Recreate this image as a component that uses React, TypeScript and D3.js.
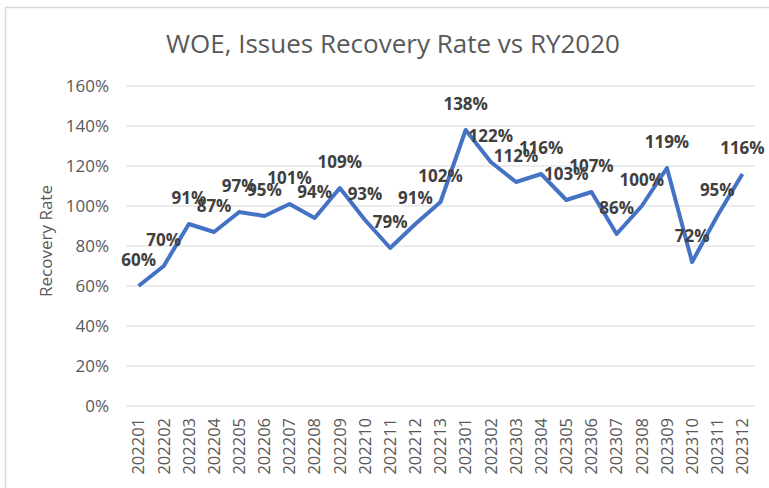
import React, { useEffect, useRef } from "react";
import * as d3 from "d3";

const categories = [
  "202201", "202202", "202203", "202204", "202205", "202206", "202207",
  "202208", "202209", "202210", "202211", "202212", "202213", "202301",
  "202302", "202303", "202304", "202305", "202306", "202307", "202308",
  "202309", "202310", "202311", "202312",
];
const rates = [
  60, 70, 91, 87, 97, 95, 101, 94, 109, 93, 79, 91, 102, 138, 122, 112,
  116, 103, 107, 86, 100, 119, 72, 95, 116,
];
const yTicks = [0, 20, 40, 60, 80, 100, 120, 140, 160];

const App = () => {
  const svgRef = useRef<SVGSVGElement>(null);

  useEffect(() => {
    const svg = d3.select(svgRef.current);
    svg.selectAll("*").remove();
    const font = "Open Sans, Noto Sans, sans-serif";

    // chart frame
    svg
      .append("rect")
      .attr("x", 5.5)
      .attr("y", 7.5)
      .attr("width", 800)
      .attr("height", 600)
      .attr("fill", "#fff")
      .attr("stroke", "#d9d9d9")
      .attr("stroke-width", 1.5);

    const x = d3.scaleBand().domain(categories).range([126, 755]);
    const y = d3.scaleLinear().domain([0, 160]).range([406, 86]);

    // gridlines
    svg
      .append("g")
      .selectAll("line")
      .data(yTicks)
      .join("line")
      .attr("x1", 126)
      .attr("x2", 755)
      .attr("y1", (d) => y(d))
      .attr("y2", (d) => y(d))
      .attr("stroke", "#d9d9d9")
      .attr("stroke-width", 1);

    // y tick labels
    svg
      .append("g")
      .selectAll("text")
      .data(yTicks)
      .join("text")
      .attr("x", 109)
      .attr("y", (d) => y(d))
      .attr("dy", "0.35em")
      .attr("text-anchor", "end")
      .attr("font-family", font)
      .attr("font-size", 17)
      .attr("fill", "#595959")
      .text((d) => d + "%");

    // x tick labels
    svg
      .append("g")
      .selectAll("text")
      .data(categories)
      .join("text")
      .attr(
        "transform",
        (d) => `translate(${x(d)! + x.bandwidth() / 2},418) rotate(-90)`
      )
      .attr("dy", "0.35em")
      .attr("text-anchor", "end")
      .attr("font-family", font)
      .attr("font-size", 16.5)
      .attr("fill", "#595959")
      .text((d) => d);

    // y axis title
    svg
      .append("text")
      .attr("transform", "translate(46,241) rotate(-90)")
      .attr("dy", "0.35em")
      .attr("text-anchor", "middle")
      .attr("font-family", font)
      .attr("font-size", 17)
      .attr("fill", "#595959")
      .text("Recovery Rate");

    // title
    svg
      .append("text")
      .attr("x", 393)
      .attr("y", 53)
      .attr("text-anchor", "middle")
      .attr("font-family", font)
      .attr("font-size", 26)
      .attr("fill", "#595959")
      .text("WOE, Issues Recovery Rate vs RY2020");

    const px = (i: number) => x(categories[i])! + x.bandwidth() / 2;

    const line = d3
      .line<number>()
      .x((_, i) => px(i))
      .y((d) => y(d));

    svg
      .append("path")
      .datum(rates)
      .attr("d", line)
      .attr("fill", "none")
      .attr("stroke", "#4472C4")
      .attr("stroke-width", 4)
      .attr("stroke-linejoin", "round");

    // data labels
    svg
      .append("g")
      .selectAll("text")
      .data(rates)
      .join("text")
      .attr("x", (_, i) => px(i))
      .attr("y", (d) => y(d) - 20)
      .attr("text-anchor", "middle")
      .attr("font-family", font)
      .attr("font-size", 17)
      .attr("font-weight", "bold")
      .attr("fill", "#404040")
      .text((d) => d + "%");
  }, []);

  return (
    <div style={{ position: "absolute", left: 0, top: 0 }}>
      <svg ref={svgRef} width={769} height={488} style={{ display: "block" }} />
    </div>
  );
};

export default App;
